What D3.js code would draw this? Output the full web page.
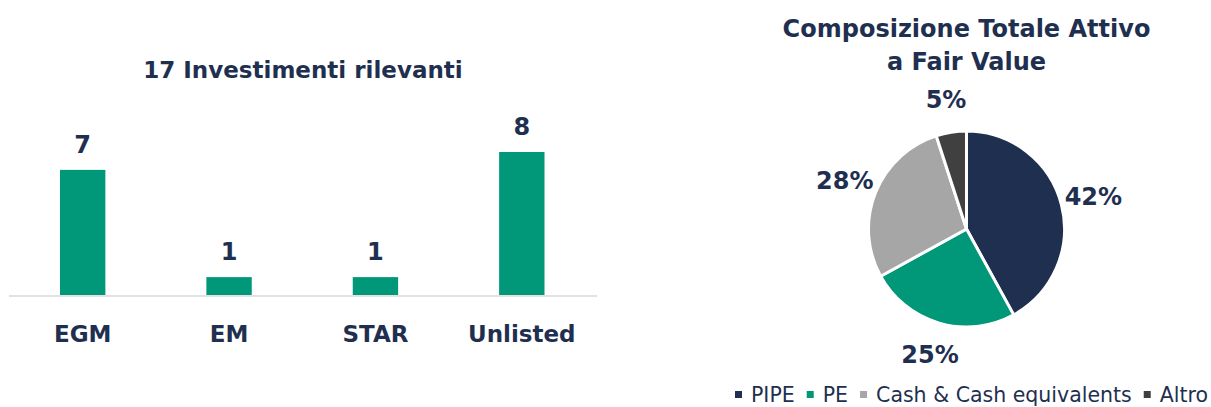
<!DOCTYPE html>
<html>
<head>
<meta charset="utf-8">
<script src="https://cdn.jsdelivr.net/npm/d3@7"></script>
<style>
  html, body { margin: 0; padding: 0; background: #fff; }
  svg text { font-family: "DejaVu Sans", sans-serif; fill: #1f2f50; }
</style>
</head>
<body>
<svg id="chart" width="1211" height="407"></svg>
<script>
// bar chart data
var barCategories = ['EGM', 'EM', 'STAR', 'Unlisted']
var barValues = [7, 1, 1, 8]
var barTitle = '17 Investimenti rilevanti'

// pie chart data
var pieCategories = ['PIPE', 'PE', 'Cash & Cash equivalents', 'Altro']
var pieValues = [42, 25, 28, 5]
var pieColors = ['#1f2f50', '#009878', '#a6a6a6', '#404040']
var pieTitle = ['Composizione Totale Attivo', 'a Fair Value']

var svg = d3.select('#chart')

// ---- bar chart ----
var baseY = 295
var x = d3.scaleBand()
  .domain(barCategories)
  .range([9.5, 595])
  .paddingInner(0.69)
  .paddingOuter(0.345)

var y = d3.scaleLinear()
  .domain([0, 8])
  .range([baseY, 152])

var bars = svg.append('g').attr('id', 'bars')

bars.append('text')
  .attr('x', 303)
  .attr('y', 78)
  .attr('text-anchor', 'middle')
  .style('font-size', '23px')
  .style('font-weight', 'bold')
  .text(barTitle)

bars.selectAll('rect')
  .data(barValues)
  .enter().append('rect')
  .attr('x', (d, i) => x(barCategories[i]))
  .attr('y', d => y(d))
  .attr('width', x.bandwidth())
  .attr('height', d => baseY - y(d))
  .attr('fill', '#009878')

bars.append('line')
  .attr('x1', 9).attr('x2', 597)
  .attr('y1', baseY + 1).attr('y2', baseY + 1)
  .attr('stroke', '#d9d9d9')
  .attr('stroke-width', 1.5)

bars.selectAll('text.val')
  .data(barValues)
  .enter().append('text')
  .attr('class', 'val')
  .attr('x', (d, i) => x(barCategories[i]) + x.bandwidth() / 2)
  .attr('y', d => y(d) - 17)
  .attr('text-anchor', 'middle')
  .style('font-size', '24px')
  .style('font-weight', 'bold')
  .text(d => d)

bars.selectAll('text.cat')
  .data(barCategories)
  .enter().append('text')
  .attr('class', 'cat')
  .attr('x', d => x(d) + x.bandwidth() / 2)
  .attr('y', 342)
  .attr('text-anchor', 'middle')
  .style('font-size', '23px')
  .style('font-weight', 'bold')
  .text(d => d)

// ---- pie chart ----
var cx = 966.5
var cy = 229
var radius = 98

var pie = svg.append('g').attr('id', 'pie')

pie.selectAll('text.title')
  .data(pieTitle)
  .enter().append('text')
  .attr('class', 'title')
  .attr('x', cx)
  .attr('y', (d, i) => 37 + i * 33)
  .attr('text-anchor', 'middle')
  .style('font-size', '24px')
  .style('font-weight', 'bold')
  .text(d => d)

var arcs = d3.pie().sort(null)(pieValues)
var arc = d3.arc().innerRadius(0).outerRadius(radius)
var labelArc = d3.arc().innerRadius(131).outerRadius(131)

var slices = pie.append('g').attr('transform', 'translate(' + cx + ',' + cy + ')')

slices.selectAll('path')
  .data(arcs)
  .enter().append('path')
  .attr('d', arc)
  .attr('fill', (d, i) => pieColors[i])
  .attr('stroke', '#fff')
  .attr('stroke-width', 3)

slices.selectAll('text')
  .data(arcs)
  .enter().append('text')
  .attr('transform', d => 'translate(' + labelArc.centroid(d) + ')')
  .attr('dy', '0.35em')
  .attr('text-anchor', 'middle')
  .style('font-size', '24px')
  .style('font-weight', 'bold')
  .text(d => d.value + '%')

// legend
var legend = pie.append('g').attr('transform', 'translate(735,395)')
var lx = 0
pieCategories.forEach((name, i) => {
  var item = legend.append('g').attr('transform', 'translate(' + lx + ',0)')
  item.append('rect')
    .attr('x', 0).attr('y', -4)
    .attr('width', 7).attr('height', 7)
    .attr('fill', pieColors[i])
  var t = item.append('text')
    .attr('x', 16)
    .attr('y', 0)
    .attr('dy', '0.35em')
    .style('font-size', '20.5px')
    .text(name)
  lx += 16 + t.node().getComputedTextLength() + 12
})
</script>
</body>
</html>
